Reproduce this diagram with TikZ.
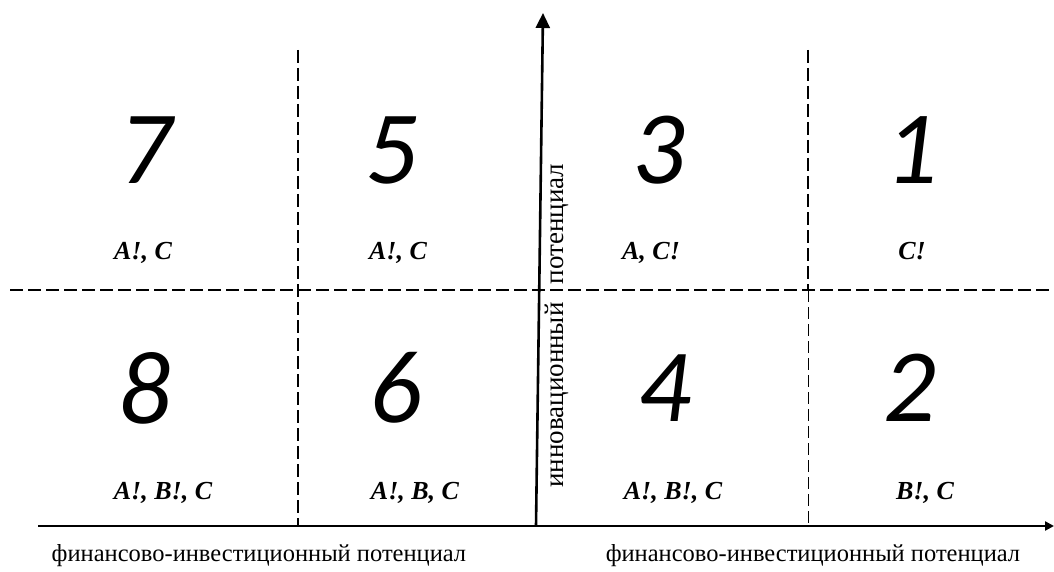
\documentclass[tikz,border=0pt]{standalone}
\usepackage{fontspec}
\setmainfont{Liberation Serif}
\newfontfamily\digitfont{Carlito}
\usetikzlibrary{arrows.meta}
\begin{document}
\begin{tikzpicture}[x=1pt,y=-1pt,
  bignum/.style={font=\digitfont\itshape\fontsize{104}{104}\selectfont, inner sep=0pt},
  lab/.style={font=\bfseries\itshape\fontsize{26}{26}\selectfont, inner sep=0pt, anchor=base},
  axlab/.style={font=\fontsize{24.5}{24.5}\selectfont, inner sep=0pt, anchor=base},
  vlab/.style={font=\fontsize{27}{27}\selectfont, inner sep=0pt, anchor=base, rotate=90},
  thickdash/.style={line width=2.6pt, dash pattern=on 13pt off 5pt},
  thindash/.style={line width=1pt, dash pattern=on 12pt off 5pt},
  axis/.style={line width=2.6pt}
]
\useasboundingbox (0,0) rectangle (1054,572);
% coordinates
\coordinate (xl) at (38,526);
\coordinate (xr) at (1054,526);
\coordinate (yb) at (536,526);
\coordinate (yt) at (543,13);
\coordinate (hl) at (10,290);
\coordinate (hr) at (1054,290);
\coordinate (vlt) at (298,50);
\coordinate (vlb) at (298,526);
\coordinate (vrt) at (808,50);
\coordinate (vrm) at (808,290);
\coordinate (vrb) at (808,526);
% dashed grid
\draw[thickdash] (hl) -- (hr);
\draw[thickdash] (vlt) -- (vlb);
\draw[thickdash] (vrt) -- (vrm);
\draw[thindash] (vrm) -- (vrb);
% axes
\draw[axis, -{Triangle[length=9pt,width=9pt]}] (xl) -- (xr);
\draw[axis, -{Triangle[length=15pt,width=14pt]}] (yb) -- (yt);
% numbers
\node[bignum] (n7) at (146,150) {7};
\node[bignum] (n5) at (392,150) {5};
\node[bignum] (n3) at (659,150) {3};
\node[bignum] (n1) at (912,150) {1};
\node[bignum] (n8) at (145,388) {8};
\node[bignum] (n6) at (396,388) {6};
\node[bignum] (n4) at (665,388) {4};
\node[bignum] (n2) at (910,388) {2};
% labels
\node[lab] (l7) at (143,259) {A!, C};
\node[lab] (l5) at (398,259) {A!, C};
\node[lab] (l3) at (651,259) {A, C!};
\node[lab] (l1) at (912,259) {C!};
\node[lab] (l8) at (163,499) {A!, B!, C};
\node[lab] (l6) at (415,499) {A!, B, C};
\node[lab] (l4) at (673,499) {A!, B!, C};
\node[lab] (l2) at (925,499) {B!, C};
% axis labels
\node[axlab] (axl) at (259,561) {финансово-инвестиционный потенциал};
\node[axlab] (axr) at (813,561) {финансово-инвестиционный потенциал};
\node[vlab] (ay1) at (563,395) {инновационный};
\node[vlab] (ay2) at (563,224) {потенциал};
\end{tikzpicture}
\end{document}
